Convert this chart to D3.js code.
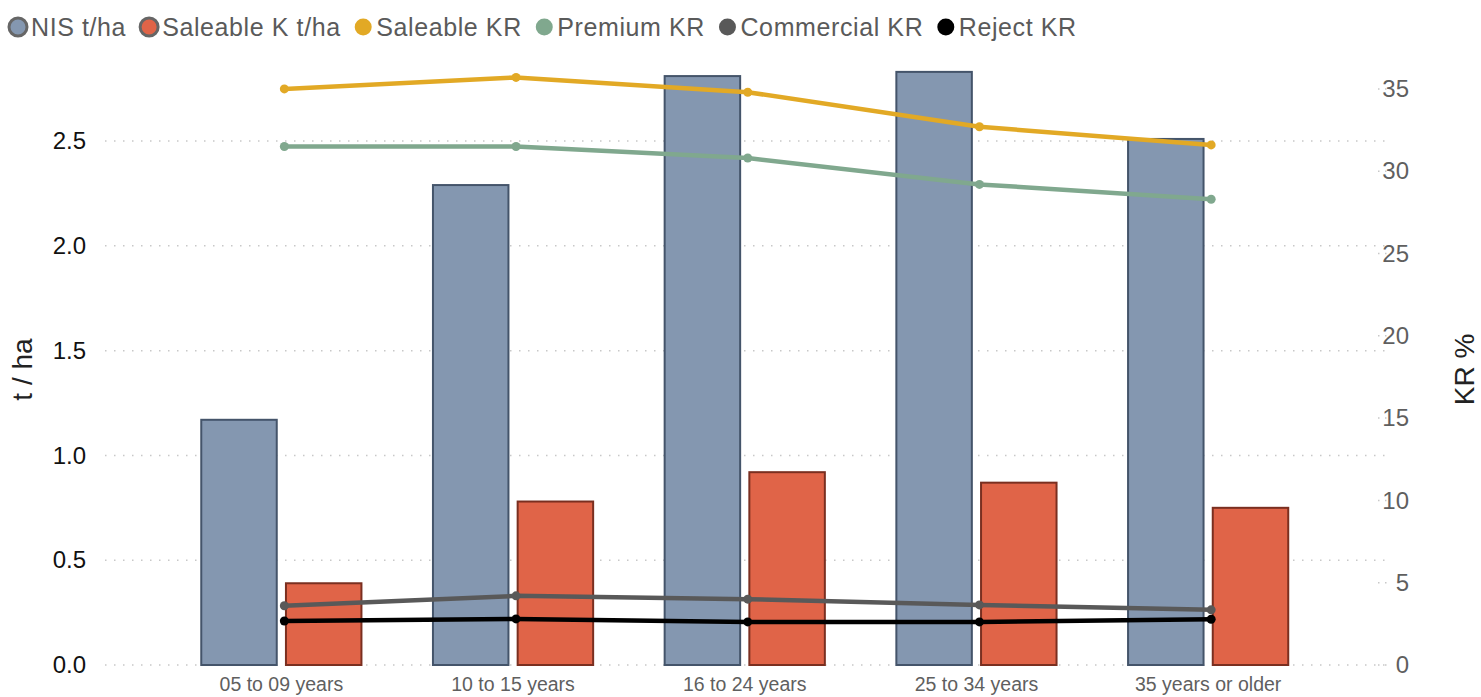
<!DOCTYPE html>
<html>
<head>
<meta charset="utf-8">
<script src="https://cdn.jsdelivr.net/npm/d3@7/dist/d3.min.js"></script>
<style>
  html, body { margin: 0; padding: 0; background: #fff; }
  svg { display: block; font-family: "Liberation Sans", Arial, sans-serif; }
</style>
</head>
<body>
<svg id="chart" width="1481" height="697"></svg>
<script>
// Age groups along the x axis
const categories = ["05 to 09 years", "10 to 15 years", "16 to 24 years", "25 to 34 years", "35 years or older"];

// Bar series (t/ha, left axis)
const nisTha = [1.17, 2.29, 2.81, 2.83, 2.51];
const saleableKTha = [0.39, 0.78, 0.92, 0.87, 0.75];

// Line series (KR %, right axis)
const saleableKR = [35.0, 35.7, 34.8, 32.7, 31.6];
const premiumKR = [31.5, 31.5, 30.8, 29.2, 28.3];
const commercialKR = [3.6, 4.2, 4.0, 3.65, 3.35];
const rejectKR = [2.67, 2.8, 2.62, 2.62, 2.78];

// Axis ticks
const leftTicks = [0, 0.5, 1.0, 1.5, 2.0, 2.5];
const rightTicks = [0, 5, 10, 15, 20, 25, 30, 35];

const barSeries = [
  { name: "NIS t/ha", values: nisTha, fill: "#8497b0", stroke: "#44546a", legendStroke: "#666666" },
  { name: "Saleable K t/ha", values: saleableKTha, fill: "#e06448", stroke: "#7a2f20", legendStroke: "#666666" }
];
const lineSeries = [
  { name: "Saleable KR", values: saleableKR, color: "#e2a925" },
  { name: "Premium KR", values: premiumKR, color: "#80a88e" },
  { name: "Commercial KR", values: commercialKR, color: "#595959" },
  { name: "Reject KR", values: rejectKR, color: "#000000" }
];

const svg = d3.select("#chart");

const plotTop = 70, plotBottom = 665;
const x0 = d3.scaleBand().domain(categories).range([165.5, 1324]).paddingInner(0.3).paddingOuter(0.15);
const x1 = d3.scaleBand().domain(barSeries.map(d => d.name)).range([0, x0.bandwidth()]).paddingInner(0.085);
const yL = d3.scaleLinear().domain([0, 2.839]).range([plotBottom, plotTop]);
const yR = d3.scaleLinear().domain([0, 36.15]).range([plotBottom, plotTop]);

// Horizontal dotted gridlines for the left axis
const grid = svg.append("g");
grid.selectAll("line").data(leftTicks).join("line")
  .attr("x1", 105).attr("x2", 1386)
  .attr("y1", d => yL(d)).attr("y2", d => yL(d))
  .attr("stroke", "#c8c8c8").attr("stroke-width", 1.5)
  .attr("stroke-dasharray", "1.5,7.5");

// Short dotted ticks next to the right axis labels
grid.append("g").selectAll("line").data(rightTicks).join("line")
  .attr("x1", 1378).attr("x2", 1392)
  .attr("y1", d => yR(d)).attr("y2", d => yR(d))
  .attr("stroke", "#c8c8c8").attr("stroke-width", 1.5)
  .attr("stroke-dasharray", "1.5,5.5");

// Left axis
const leftAxis = svg.append("g").attr("transform", "translate(88,0)")
  .call(d3.axisLeft(yL).tickValues(leftTicks).tickFormat(d3.format(".1f")).tickSize(0).tickPadding(2));
leftAxis.select(".domain").remove();
leftAxis.selectAll("text").attr("font-size", 24).attr("fill", "#111").attr("font-family", "Liberation Sans, Arial, sans-serif");

// Right axis
const rightAxis = svg.append("g").attr("transform", "translate(1409,0)")
  .call(d3.axisLeft(yR).tickValues(rightTicks).tickFormat(d3.format("d")).tickSize(0).tickPadding(0));
rightAxis.select(".domain").remove();
rightAxis.selectAll("text").attr("font-size", 24).attr("fill", "#5f5f5f").attr("font-family", "Liberation Sans, Arial, sans-serif");

// X axis labels
const xAxis = svg.append("g").attr("transform", `translate(0,${plotBottom})`)
  .call(d3.axisBottom(x0).tickSize(0).tickPadding(12));
xAxis.select(".domain").remove();
xAxis.selectAll("text").attr("font-size", 19.5).attr("fill", "#5f5f5f").attr("font-family", "Liberation Sans, Arial, sans-serif");

// Axis titles
svg.append("text")
  .attr("transform", `translate(32,${(plotTop + plotBottom) / 2 + 2}) rotate(-90)`)
  .attr("text-anchor", "middle").attr("font-size", 28).attr("fill", "#222")
  .text("t / ha");
svg.append("text")
  .attr("transform", `translate(1474,${(plotTop + plotBottom) / 2 + 2}) rotate(-90)`)
  .attr("text-anchor", "middle").attr("font-size", 28).attr("fill", "#222")
  .text("KR %");

// Clustered bars
const groups = svg.append("g").selectAll("g").data(categories).join("g")
  .attr("transform", d => `translate(${x0(d)},0)`);
groups.selectAll("rect")
  .data((c, i) => barSeries.map(s => ({ s, v: s.values[i] })))
  .join("rect")
  .attr("x", d => x1(d.s.name) + 1)
  .attr("width", x1.bandwidth() - 2)
  .attr("y", d => yL(d.v))
  .attr("height", d => yL(0) - yL(d.v))
  .attr("fill", d => d.s.fill)
  .attr("stroke", d => d.s.stroke)
  .attr("stroke-width", 2);

// Lines with markers on the right axis
const lx = c => x0(c) + x0.bandwidth() / 2 + 3;
const line = d3.line().x((d, i) => lx(categories[i])).y(d => yR(d));
lineSeries.forEach(s => {
  const g = svg.append("g");
  g.append("path").datum(s.values)
    .attr("d", line).attr("fill", "none")
    .attr("stroke", s.color).attr("stroke-width", 4.5)
    .attr("stroke-linejoin", "round").attr("stroke-linecap", "round");
  g.selectAll("circle").data(s.values).join("circle")
    .attr("cx", (d, i) => lx(categories[i])).attr("cy", d => yR(d))
    .attr("r", 4.5).attr("fill", s.color);
});

// Legend
const legend = svg.append("g").attr("transform", "translate(0,27)");
let cursor = 9;
const legendItems = [
  ...barSeries.map(s => ({ name: s.name, fill: s.fill, stroke: s.legendStroke, r: 9 })),
  ...lineSeries.map(s => ({ name: s.name, fill: s.color, stroke: null, r: 8.5 }))
];
legendItems.forEach(item => {
  const cx = cursor + item.r;
  legend.append("circle").attr("cx", cx).attr("cy", 0).attr("r", item.r)
    .attr("fill", item.fill)
    .attr("stroke", item.stroke || "none").attr("stroke-width", item.stroke ? 3 : 0);
  const t = legend.append("text").attr("x", cx + 13).attr("y", 0)
    .attr("dy", "0.35em").attr("font-size", 25).attr("letter-spacing", 0.6)
    .attr("fill", "#5a5a5a")
    .text(item.name);
  cursor = cx + 13 + t.node().getComputedTextLength() + 14;
});
</script>
</body>
</html>
